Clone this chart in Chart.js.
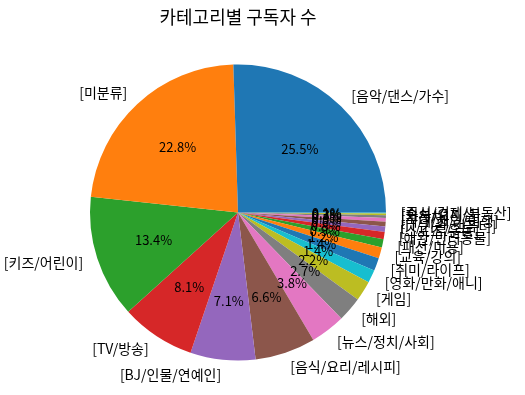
<!DOCTYPE html>
<html>
<head>
<meta charset="utf-8">
<script src="https://cdn.jsdelivr.net/npm/chart.js@4/dist/chart.umd.min.js"></script>
<style>
  html, body { margin: 0; padding: 0; background: #ffffff; }
  #wrap { width: 525px; height: 395px; }
</style>
</head>
<body>
<div id="wrap"><canvas id="c" width="525" height="395"></canvas></div>
<script>
const titleText = "카테고리별 구독자 수";
const categories = [
  "[음악/댄스/가수]", "[미분류]", "[키즈/어린이]", "[TV/방송]", "[BJ/인물/연예인]",
  "[음식/요리/레시피]", "[뉴스/정치/사회]", "[해외]", "[게임]", "[영화/만화/애니]",
  "[취미/라이프]", "[교육/강의]", "[패션/미용]", "[애완/반려동물]", "[스포츠/운동]",
  "[IT/기술/컴퓨터]", "[국내/해외/여행]", "[자동차]", "[회사/오피셜]", "[주식/경제/부동산]"
];
const shares = [
  25.5, 22.8, 13.4, 8.1, 7.1,
  6.6, 3.8, 2.7, 2.2, 1.4,
  1.4, 1.2, 0.9, 0.8, 0.6,
  0.5, 0.4, 0.3, 0.2, 0.1
];
const palette = ['#1f77b4','#ff7f0e','#2ca02c','#d62728','#9467bd','#8c564b','#e377c2','#7f7f7f','#bcbd22','#17becf'];

// matplotlib draws counter-clockwise from 3 o'clock; Chart.js draws clockwise,
// so the series is reversed and started at 3 o'clock.
const colors = categories.map((_, i) => palette[i % palette.length]);
const revLabels = categories.slice().reverse();
const revValues = shares.slice().reverse();
const revColors = colors.slice().reverse();

const FONT = "'Noto Sans CJK KR', 'Noto Sans', sans-serif";

const pieText = {
  id: 'pieText',
  afterDatasetsDraw(chart) {
    const ctx = chart.ctx;
    const meta = chart.getDatasetMeta(0);
    const data = chart.data.datasets[0].data;
    const total = data.reduce((a, b) => a + b, 0);
    ctx.save();
    ctx.fillStyle = '#000000';
    ctx.textBaseline = 'middle';
    for (let k = meta.data.length - 1; k >= 0; k--) {
      const arc = meta.data[k];
      const mid = (arc.startAngle + arc.endAngle) / 2;
      const r = arc.outerRadius;
      const cx = arc.x, cy = arc.y;
      ctx.font = "14px " + FONT;
      const lx = cx + Math.cos(mid) * r * 1.1;
      const ly = cy + Math.sin(mid) * r * 1.1;
      ctx.textAlign = Math.cos(mid) > 0 ? 'left' : 'right';
      ctx.fillText(chart.data.labels[k], lx, ly);
      ctx.font = "13px " + FONT;
      const px = cx + Math.cos(mid) * r * 0.6;
      const py = cy + Math.sin(mid) * r * 0.6;
      ctx.textAlign = 'center';
      ctx.fillText((data[k] / total * 100).toFixed(1) + '%', px, py);
    }
    ctx.restore();
  }
};

new Chart(document.getElementById('c'), {
  type: 'pie',
  data: {
    labels: revLabels,
    datasets: [{
      data: revValues,
      backgroundColor: revColors,
      borderWidth: 0,
      hoverOffset: 0
    }]
  },
  options: {
    responsive: false,
    animation: false,
    rotation: 90,
    layout: { padding: { top: 0, bottom: 34.5, left: 40, right: 89 } },
    plugins: {
      legend: { display: false },
      tooltip: { enabled: false },
      title: {
        display: true,
        text: titleText,
        color: '#000000',
        font: { family: FONT, size: 18, weight: 'normal', lineHeight: 1.2 },
        padding: { top: 6, bottom: 36.9 }
      }
    }
  },
  plugins: [pieText]
});
</script>
</body>
</html>
